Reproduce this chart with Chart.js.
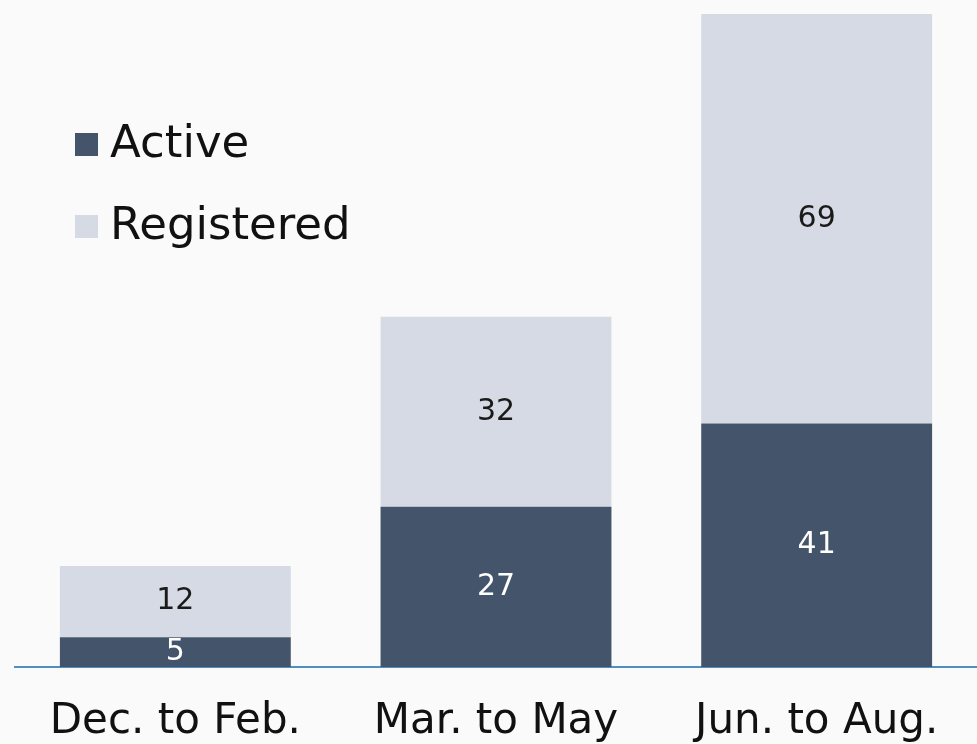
<!DOCTYPE html>
<html>
<head>
<meta charset="utf-8">
<script src="https://cdn.jsdelivr.net/npm/chart.js@4.4.0/dist/chart.umd.min.js"></script>
<style>
  html, body { margin: 0; padding: 0; background: #fafafa; }
  #wrap { width: 977px; height: 744px; }
</style>
</head>
<body>
<div id="wrap"><canvas id="chart" width="977" height="744"></canvas></div>
<script>
// ====== Data ======
const seasons = ["Dec. to Feb.", "Mar. to May", "Jun. to Aug."];
const activeUsers = [5, 27, 41];
const registeredUsers = [12, 32, 69];

const FONT = "'DejaVu Sans', sans-serif";
const ACTIVE_COLOR = "#44546a";
const REG_COLOR = "#d6dae4";

// ====== Plugins ======
// value labels in the middle of each segment
const segmentLabels = {
  id: "segmentLabels",
  afterDatasetsDraw(chart) {
    const c = chart.ctx;
    c.save();
    c.font = "30px " + FONT;
    c.textAlign = "center";
    c.textBaseline = "middle";
    chart.data.datasets.forEach((ds, i) => {
      chart.getDatasetMeta(i).data.forEach((bar, j) => {
        const mid = (bar.y + bar.base) / 2;
        c.fillStyle = i === 0 ? "#ffffff" : "#1a1a1a";
        c.fillText(ds.data[j], bar.x, mid);
      });
    });
    c.restore();
  }
};

// legend stacked at top left, like the original slide
const sideLegend = {
  id: "sideLegend",
  afterDraw(chart) {
    const c = chart.ctx;
    c.save();
    c.font = "45px " + FONT;
    c.textBaseline = "middle";
    c.textAlign = "left";
    chart.data.datasets.forEach((ds, i) => {
      const y = 145 + i * 82;
      c.fillStyle = ds.backgroundColor;
      c.fillRect(75, y - 12, 23, 23);
      c.fillStyle = "#111111";
      c.fillText(ds.label, 110, y);
    });
    c.restore();
  }
};

// ====== Chart ======
const ctx = document.getElementById("chart").getContext("2d");
const chart = new Chart(ctx, {
  type: "bar",
  data: {
    labels: seasons,
    datasets: [
      { label: "Active", data: activeUsers, backgroundColor: ACTIVE_COLOR },
      { label: "Registered", data: registeredUsers, backgroundColor: REG_COLOR }
    ]
  },
  options: {
    responsive: false,
    animation: false,
    layout: { padding: { left: 15, right: 0, top: 14, bottom: 0 } },
    plugins: { legend: { display: false }, tooltip: { enabled: false } },
    datasets: { bar: { categoryPercentage: 1, barPercentage: 0.72 } },
    scales: {
      x: {
        stacked: true,
        grid: { display: false },
        border: { color: "#4f8fc0", width: 2 },
        ticks: { color: "#111111", font: { family: FONT, size: 42 }, padding: 22 },
        afterFit(scale) { scale.height = 77; }
      },
      y: {
        stacked: true,
        display: false,
        min: 0,
        max: 110
      }
    }
  },
  plugins: [segmentLabels, sideLegend]
});
</script>
</body>
</html>
